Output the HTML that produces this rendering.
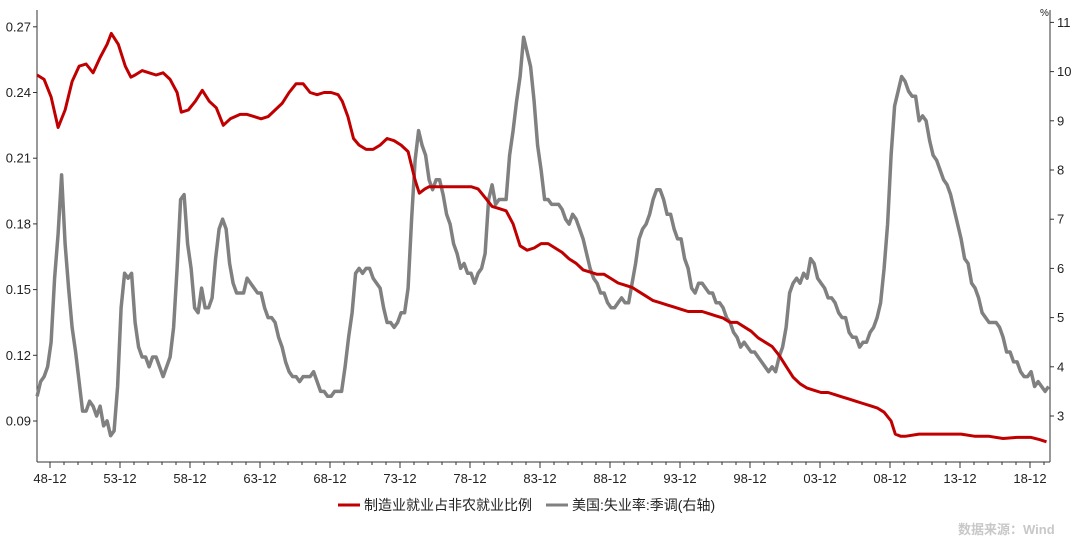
<!DOCTYPE html>
<html><head><meta charset="utf-8"><style>
body{margin:0;background:#fff;width:1080px;height:538px;overflow:hidden;font-family:"Liberation Sans","Noto Sans CJK SC",sans-serif}
svg text{font-family:"Liberation Sans","Noto Sans CJK SC",sans-serif}
</style></head><body>
<svg id="chart" width="1080" height="538" viewBox="0 0 1080 538" xmlns="http://www.w3.org/2000/svg">
<g id="axes"></g>
<g id="series"></g>
<g>
<line x1="338" y1="505" x2="360" y2="505" stroke="#C00000" stroke-width="3"/>
<text x="364" y="510" font-size="14" fill="#222">制造业就业占非农就业比例</text>
<line x1="546" y1="505" x2="568" y2="505" stroke="#808080" stroke-width="3"/>
<text x="572" y="510" font-size="14" fill="#222">美国:失业率:季调(右轴)</text>
</g>
<text x="958" y="534" font-size="13" font-weight="bold" fill="#c8c8c8">数据来源：Wind</text>
<text x="1040" y="16" font-size="10" fill="#222">%</text>
</svg>
<script>
const leftTicks=[0.09,0.12,0.15,0.18,0.21,0.24,0.27];
const rightTicks=[3,4,5,6,7,8,9,10,11];
const xLabels=["48-12","53-12","58-12","63-12","68-12","73-12","78-12","83-12","88-12","93-12","98-12","03-12","08-12","13-12","18-12"];
const xLabelYears=[1948.92,1953.92,1958.92,1963.92,1968.92,1973.92,1978.92,1983.92,1988.92,1993.92,1998.92,2003.92,2008.92,2013.92,2018.92];
const mfgYears=[1948,1948.5,1949,1949.5,1950,1950.5,1951,1951.5,1952,1952.5,1953,1953.3,1953.8,1954.3,1954.7,1955,1955.5,1956,1956.5,1957,1957.5,1958,1958.3,1958.8,1959.3,1959.8,1960.3,1960.8,1961.3,1961.8,1962.5,1963,1963.5,1964,1964.5,1965,1965.5,1966,1966.5,1967,1967.5,1968,1968.5,1969,1969.5,1969.8,1970.2,1970.6,1971,1971.5,1972,1972.5,1973,1973.5,1974,1974.5,1975,1975.3,1975.7,1976,1976.5,1977,1977.5,1978,1978.5,1979,1979.5,1980,1980.5,1981,1981.5,1982,1982.5,1983,1983.5,1984,1984.5,1985,1985.5,1986,1986.5,1987,1987.5,1988,1988.5,1989,1989.5,1990,1990.5,1991,1991.5,1992,1992.5,1993,1993.5,1994,1994.5,1995,1995.5,1996,1996.5,1997,1997.5,1998,1998.5,1999,1999.5,2000,2000.5,2001,2001.5,2002,2002.5,2003,2003.5,2004,2004.5,2005,2005.5,2006,2006.5,2007,2007.5,2008,2008.5,2009,2009.3,2009.7,2010,2011,2012,2013,2014,2015,2016,2017,2018,2019,2019.6,2020.1];
const mfgValues=[0.248,0.246,0.238,0.224,0.232,0.245,0.252,0.253,0.249,0.256,0.262,0.267,0.262,0.252,0.247,0.248,0.250,0.249,0.248,0.249,0.246,0.240,0.231,0.232,0.236,0.241,0.236,0.233,0.225,0.228,0.230,0.230,0.229,0.228,0.229,0.232,0.235,0.240,0.244,0.244,0.240,0.239,0.240,0.240,0.239,0.236,0.229,0.219,0.216,0.214,0.214,0.216,0.219,0.218,0.216,0.213,0.200,0.194,0.196,0.197,0.197,0.197,0.197,0.197,0.197,0.197,0.196,0.192,0.188,0.187,0.186,0.180,0.170,0.168,0.169,0.171,0.171,0.169,0.167,0.164,0.162,0.159,0.158,0.157,0.157,0.155,0.153,0.152,0.151,0.149,0.147,0.145,0.144,0.143,0.142,0.141,0.140,0.140,0.140,0.139,0.138,0.137,0.135,0.135,0.133,0.131,0.128,0.126,0.124,0.120,0.115,0.110,0.107,0.105,0.104,0.103,0.103,0.102,0.101,0.100,0.099,0.098,0.097,0.096,0.094,0.090,0.084,0.083,0.083,0.084,0.084,0.084,0.084,0.083,0.083,0.082,0.0825,0.0825,0.0815,0.0805];
const unempStart=1948.0;
const unempValues=[3.4,3.7,3.8,4.0,4.5,5.8,6.7,7.9,6.5,5.6,4.8,4.3,3.7,3.1,3.1,3.3,3.2,3.0,3.2,2.8,2.9,2.6,2.7,3.6,5.2,5.9,5.8,5.9,4.9,4.4,4.2,4.2,4.0,4.2,4.2,4.0,3.8,4.0,4.2,4.8,6.0,7.4,7.5,6.5,6.0,5.2,5.1,5.6,5.2,5.2,5.4,6.2,6.8,7.0,6.8,6.1,5.7,5.5,5.5,5.5,5.8,5.7,5.6,5.5,5.5,5.2,5.0,5.0,4.9,4.6,4.4,4.1,3.9,3.8,3.8,3.7,3.8,3.8,3.8,3.9,3.7,3.5,3.5,3.4,3.4,3.5,3.5,3.5,4.0,4.6,5.1,5.9,6.0,5.9,6.0,6.0,5.8,5.7,5.6,5.2,4.9,4.9,4.8,4.9,5.1,5.1,5.6,7.0,8.2,8.8,8.5,8.3,7.8,7.6,7.8,7.8,7.5,7.1,6.9,6.5,6.3,6.0,6.1,5.9,5.9,5.7,5.9,6.0,6.3,7.4,7.7,7.3,7.4,7.4,7.4,8.3,8.8,9.4,9.9,10.7,10.4,10.1,9.4,8.5,8.0,7.4,7.4,7.3,7.3,7.3,7.2,7.0,6.9,7.1,7.0,6.8,6.6,6.3,6.0,5.8,5.7,5.5,5.5,5.3,5.2,5.2,5.3,5.4,5.3,5.3,5.7,6.1,6.6,6.8,6.9,7.1,7.4,7.6,7.6,7.4,7.1,7.1,6.8,6.6,6.6,6.2,6.0,5.6,5.5,5.7,5.7,5.6,5.5,5.5,5.3,5.3,5.2,5.0,4.9,4.7,4.6,4.4,4.5,4.4,4.3,4.3,4.2,4.1,4.0,3.9,4.0,3.9,4.2,4.4,4.8,5.5,5.7,5.8,5.7,5.9,5.8,6.2,6.1,5.8,5.7,5.6,5.4,5.4,5.3,5.1,5.0,5.0,4.7,4.6,4.6,4.4,4.5,4.5,4.7,4.8,5.0,5.3,6.0,6.9,8.3,9.3,9.6,9.9,9.8,9.6,9.5,9.5,9.0,9.1,9.0,8.6,8.3,8.2,8.0,7.8,7.7,7.5,7.2,6.9,6.6,6.2,6.1,5.7,5.6,5.4,5.1,5.0,4.9,4.9,4.9,4.8,4.6,4.3,4.3,4.1,4.1,3.9,3.8,3.8,3.9,3.6,3.7,3.6,3.5,3.6];
const NS="http://www.w3.org/2000/svg";
const X0=37,X1=1050,YB=462,YT=10;
function xs(yr){return 50+(yr-1948.92)*14;}
function yl(v){return 421-(v-0.09)/0.03*65.7;}
function yr(v){return 416-(v-3)*49.2;}
const axes=document.getElementById('axes'),series=document.getElementById('series');
function mk(tag,attrs,parent){const e=document.createElementNS(NS,tag);for(const k in attrs)e.setAttribute(k,attrs[k]);parent.appendChild(e);return e;}
let e;
e=mk('line',{x1:X0,y1:YT,x2:X0,y2:YB,stroke:'#333','stroke-width':1},axes);


e=mk('line',{x1:X1,y1:YT,x2:X1,y2:YB,stroke:'#333','stroke-width':1},axes);


e=mk('line',{x1:X0,y1:YB,x2:X1,y2:YB,stroke:'#333','stroke-width':1},axes);


leftTicks.forEach(v=>{const y=yl(v);
 e=mk('line',{x1:X0-4,y1:y,x2:X0,y2:y,stroke:'#333'},axes);
 
 
 e=mk('text',{x:X0-6,y:y+4.5,'font-size':13,'text-anchor':'end',fill:'#222'},axes);e.textContent=v.toFixed(2);
 
 });
rightTicks.forEach(v=>{const y=yr(v);
 e=mk('line',{x1:X1,y1:y,x2:X1+4,y2:y,stroke:'#333'},axes);
 
 
 e=mk('text',{x:X1+7,y:y+4.5,'font-size':13,fill:'#222'},axes);e.textContent=v;
 
 });
for(let k=0;k<72;k++){const yy=1948.92+k;const x=xs(yy);if(x>X1)break;const major=(k%5===0);
 e=mk('line',{x1:x,y1:YB,x2:x,y2:YB+(major?6:3),stroke:'#333'},axes);
 
 }
xLabels.forEach((l,i)=>{e=mk('text',{x:xs(xLabelYears[i]),y:483,'font-size':13,'text-anchor':'middle',fill:'#222'},axes);e.textContent=l;
 
 });
let d='';unempValues.forEach((v,i)=>{d+=(i?'L':'M')+xs(unempStart+i*0.25).toFixed(1)+','+yr(v).toFixed(1);});
e=mk('path',{d:d,fill:'none',stroke:'#808080','stroke-width':3.5,'stroke-linejoin':'round'},series);


d='';mfgValues.forEach((v,i)=>{d+=(i?'L':'M')+xs(mfgYears[i]).toFixed(1)+','+yl(v).toFixed(1);});
e=mk('path',{d:d,fill:'none',stroke:'#C00000','stroke-width':3,'stroke-linejoin':'round'},series);


</script>
</body></html>
